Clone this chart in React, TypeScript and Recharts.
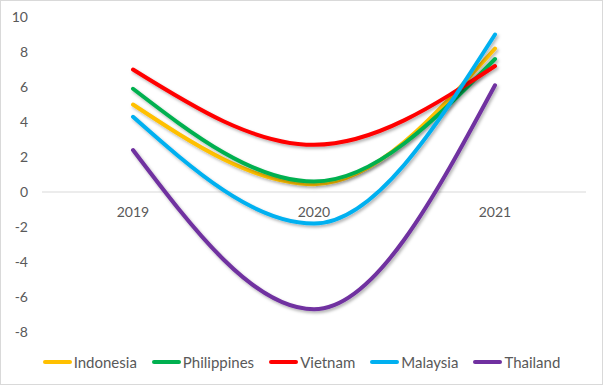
import { LineChart, Line, XAxis, YAxis, Legend, ReferenceLine } from 'recharts';

const years = ['2019', '2020', '2021'];
const indonesia = [5.0, 0.45, 8.2];
const philippines = [5.9, 0.6, 7.6];
const vietnam = [7.0, 2.7, 7.2];
const malaysia = [4.3, -1.8, 9.0];
const thailand = [2.4, -6.7, 6.1];
const yTicks = [-8, -6, -4, -2, 0, 2, 4, 6, 8, 10];

const series = [
  { key: 'Indonesia', values: indonesia, color: '#FFC000' },
  { key: 'Philippines', values: philippines, color: '#00B050' },
  { key: 'Vietnam', values: vietnam, color: '#FF0000' },
  { key: 'Malaysia', values: malaysia, color: '#00B0F0' },
  { key: 'Thailand', values: thailand, color: '#7030A0' },
];

const data = years.map((year, i) => {
  const row: Record<string, number | string> = { year };
  series.forEach((s) => {
    row[s.key] = s.values[i];
  });
  return row;
});

const FONT = 'Lato, "Open Sans", sans-serif';
const TEXT = '#595959';
const TOP = 16;
const PLOT_H = 315;
const Y_MIN = -8;
const Y_MAX = 10;
const ZERO_Y = TOP + ((Y_MAX - 0) / (Y_MAX - Y_MIN)) * PLOT_H;

// category labels sit just under the zero line, like Excel does
function YearTick({ x, payload }: any) {
  return (
    <text x={x} y={ZERO_Y + 25} textAnchor="middle" fill={TEXT} fontSize={14} fontFamily={FONT}>
      {payload.value}
    </text>
  );
}

function LegendContent() {
  return (
    <div
      style={{
        display: 'flex',
        justifyContent: 'center',
        gap: 15,
        paddingLeft: 16,
        fontFamily: FONT,
        fontSize: 15,
        color: TEXT,
      }}
    >
      {series.map((s) => (
        <div key={s.key} style={{ display: 'flex', alignItems: 'center' }}>
          <span style={{ display: 'inline-block', width: 29, height: 4, borderRadius: 2, background: s.color, marginRight: 2 }} />
          <span>{s.key}</span>
        </div>
      ))}
    </div>
  );
}

export default function App() {
  return (
    <div
      style={{
        position: 'fixed',
        left: 0,
        top: 0,
        width: 601,
        height: 383,
        border: '1px solid #d9d9d9',
        background: '#fff',
      }}
    >
      <LineChart width={601} height={383} data={data} margin={{ top: TOP, right: 16, left: 0, bottom: 33 }}>
        <defs>
          <filter id="lineShadow" x="-10%" y="-10%" width="130%" height="130%">
            <feDropShadow dx="1.5" dy="2" stdDeviation="1.5" floodColor="#000" floodOpacity="0.3" />
          </filter>
        </defs>
        <XAxis
          dataKey="year"
          axisLine={false}
          tickLine={false}
          height={1}
          tick={<YearTick />}
          interval={0}
          padding={{ left: 91, right: 91 }}
        />
        <YAxis
          domain={[Y_MIN, Y_MAX]}
          ticks={yTicks}
          width={41}
          axisLine={false}
          tickLine={false}
          tickSize={6}
          tickMargin={8}
          tick={{ fill: TEXT, fontSize: 14, fontFamily: FONT }}
        />
        <ReferenceLine y={0} stroke="#d9d9d9" strokeWidth={1} />
        {series.map((s) => (
          <Line
            key={s.key}
            type="monotone"
            dataKey={s.key}
            stroke={s.color}
            strokeWidth={4}
            strokeLinecap="round"
            dot={false}
            activeDot={false}
            filter="url(#lineShadow)"
            isAnimationActive={false}
          />
        ))}
        <Legend verticalAlign="bottom" content={<LegendContent />} wrapperStyle={{ bottom: 13 }} />
      </LineChart>
    </div>
  );
}
